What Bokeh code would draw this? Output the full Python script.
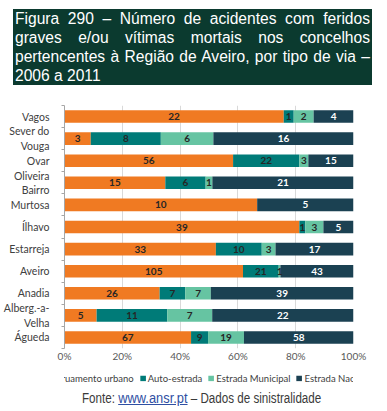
from bokeh.plotting import figure
from bokeh.layouts import column
from bokeh.models import (ColumnDataSource, Range1d, LinearAxis, FixedTicker,
                          NumeralTickFormatter, Legend, LegendItem, Div)
from bokeh.core.properties import value
from bokeh.embed import file_html
from bokeh.resources import INLINE

# ---- data (top to bottom as in the reference) ----
concelhos = ["Vagos", "Sever do\nVouga", "Ovar", "Oliveira\nBairro", "Murtosa", "Ílhavo",
             "Estarreja", "Aveiro", "Anadia", "Alberg.-a-\nVelha", "Águeda"]
arruamento = [22, 3, 56, 15, 10, 39, 33, 105, 26, 5, 67]
auto_estrada = [1, 8, 22, 6, 0, 1, 10, 21, 7, 11, 9]
municipal = [2, 6, 3, 1, 0, 3, 3, 1, 7, 7, 19]
nacional = [4, 16, 15, 21, 5, 5, 17, 43, 39, 22, 58]
series_names = ["Arruamento urbano", "Auto-estrada", "Estrada Municipal", "Estrada Nacional"]
x_ticks = [0, 0.2, 0.4, 0.6, 0.8, 1.0]
title_lines = ["Figura 290 – Número de acidentes com feridos",
               "graves e/ou vítimas mortais nos concelhos",
               "pertencentes à Região de Aveiro, por tipo de via –",
               "2006 a 2011"]
fonte_parts = ["Fonte:", "www.ansr.pt", "– Dados de sinistralidade"]

colors = ["#F07A22", "#007B78", "#66C4A2", "#1B4152"]
label_colors = ["#262626", "#262626", "#262626", "#FFFFFF"]
series = [arruamento, auto_estrada, municipal, nacional]
keys = ["s0", "s1", "s2", "s3"]

W = 371
BORDERS = dict(min_border_left=61, min_border_right=18)

# ---------------- title (HTML block, justified like the original) ----------------
jline = "text-align:justify;text-align-last:justify;"
title_html = (
    '<div style="margin:4px 0 0 8px;width:359px;height:76px;background:#0B3A2F;color:#FFFFFF;'
    "font-family:'Liberation Sans',Arial,sans-serif;font-size:15.6px;line-height:19px;"
    'padding:0 2px;box-sizing:border-box;">'
    + "".join(f'<div style="{jline}">{t}</div>' for t in title_lines[:3])
    + f'<div style="text-align:left;">{title_lines[3]}</div></div>'
)
title_div = Div(text=title_html, width=W, height=84)

# ---------------- chart ----------------
n = len(concelhos)
ypos = [n - i - 0.5 for i in range(n)]          # first category at the top
totals = [sum(v) for v in zip(*series)]
data = {"y": ypos}
for k, s in zip(keys, series):
    data[k] = [a / t for a, t in zip(s, totals)]
source = ColumnDataSource(data)

lx, ly, lt, lc = [], [], [], []
for i in range(n):
    cum = 0.0
    for j, s in enumerate(series):
        frac = s[i] / totals[i]
        if s[i] > 0:
            lx.append(cum + frac / 2)
            ly.append(ypos[i])
            lt.append(str(s[i]))
            lc.append(label_colors[j])
        cum += frac
lab_src = ColumnDataSource(dict(x=lx, y=ly, text=lt, tcolor=lc))

p = figure(width=W, height=270, output_backend="svg", toolbar_location=None,
           y_range=Range1d(0, n), x_range=Range1d(0, 1),
           y_axis_location=None, x_axis_location=None,
           min_border_top=11, min_border_bottom=16, **BORDERS)
p.outline_line_color = None
p.background_fill_color = "white"
p.border_fill_color = "white"

rs = p.hbar_stack(keys, y="y", height=0.57, color=colors, source=source, line_color=None)

p.text(x="x", y="y", text="text", source=lab_src, text_color="tcolor",
       text_font=value("Lato"), text_font_size="10px", text_font_style="bold",
       text_align="center", text_baseline="middle")

p.ygrid.grid_line_color = None
p.xgrid.grid_line_color = "#D9D9D9"
p.xgrid.ticker = FixedTicker(ticks=x_ticks)

xa = LinearAxis(ticker=FixedTicker(ticks=x_ticks), formatter=NumeralTickFormatter(format="0%"))
xa.axis_line_color = None
xa.major_tick_line_color = None
xa.minor_tick_line_color = None
xa.major_tick_out = 0
xa.major_tick_in = 0
xa.major_label_text_font = "Lato"
xa.major_label_text_font_size = "10px"
xa.major_label_text_color = "#595959"
xa.major_label_standoff = 1
p.add_layout(xa, "below")

ya = LinearAxis(ticker=FixedTicker(ticks=ypos, minor_ticks=list(range(n + 1))),
                major_label_overrides={y: c for y, c in zip(ypos, concelhos)})
ya.axis_line_color = "#A6A6A6"
ya.major_tick_line_color = None
ya.major_tick_out = 0
ya.major_tick_in = 0
ya.minor_tick_line_color = "#A6A6A6"
ya.minor_tick_out = 3
ya.minor_tick_in = 0
ya.major_label_text_font = "Lato"
ya.major_label_text_font_size = "10.5px"
ya.major_label_text_color = "#404040"
ya.major_label_standoff = 12
p.add_layout(ya, "left")

# ---------------- legend (own strip, same frame edges as the chart) ----------------
# the same stacked bars are drawn here out of view, only to provide the legend swatches
lf = figure(width=W, height=28, output_backend="svg", toolbar_location=None,
            x_range=Range1d(0, 1), y_range=Range1d(100, 101),
            x_axis_location=None, y_axis_location=None,
            min_border_top=0, min_border_bottom=0, **BORDERS)
lf.grid.grid_line_color = None
lf.outline_line_color = None
lf.background_fill_color = "white"
lf.border_fill_color = "white"
swatches = lf.hbar_stack(keys, y="y", height=0.57, color=colors, source=source, line_color=None)
lg = Legend(items=[LegendItem(label=nm, renderers=[r]) for nm, r in zip(series_names, swatches)])
lg.orientation = "horizontal"
lg.location = "center"
lg.label_text_font = "Lato"
lg.label_text_font_size = "9.5px"
lg.label_text_color = "#404040"
lg.glyph_width = 7
lg.glyph_height = 7
lg.label_standoff = 2
lg.spacing = 5
lg.padding = 0
lg.margin = 0
lg.border_line_color = None
lg.background_fill_alpha = 0
lg.label_height = 10
lf.add_layout(lg, "center")

# ---------------- footer ----------------
footer_html = (
    '<div style="position:relative;top:-7px;margin-left:77px;white-space:nowrap;'
    'transform:scaleX(0.83);transform-origin:left top;'
    "font-family:'Liberation Sans',Arial,sans-serif;font-size:14px;"
    f'line-height:16px;color:#3A3A3A;">{fonte_parts[0]} '
    f'<span style="color:#2F4FA3;text-decoration:underline;font-size:15.5px;">{fonte_parts[1]}</span> '
    f'{fonte_parts[2]}</div>'
)
footer_div = Div(text=footer_html, width=W, height=13)

layout = column(title_div, p, lf, footer_div, spacing=0)
open("out.html", "w").write(file_html(layout, INLINE))
